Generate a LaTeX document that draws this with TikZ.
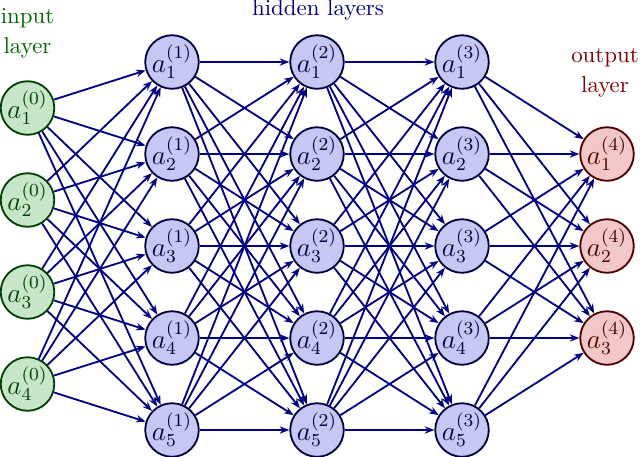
\documentclass[tikz,border=0pt]{standalone}
\usetikzlibrary{arrows.meta}
\colorlet{edgeblue}{blue!50!black}
\colorlet{gborder}{green!25!black}
\colorlet{bborder}{blue!25!black}
\colorlet{rborder}{red!30!black}
\begin{document}
\begin{tikzpicture}[x=0.437pt,y=-0.437pt,
  neuron/.style={circle,draw,thick,minimum size=23.4pt,inner sep=0pt,font=\large},
  inneuron/.style={neuron,fill=green!55!black!22,draw=gborder,text=gborder},
  hidneuron/.style={neuron,fill=blue!80!black!22,draw=bborder,text=bborder},
  outneuron/.style={neuron,fill=red!75!black!22,draw=rborder,text=rborder},
  conn/.style={-{Stealth[length=4.2pt,width=3.2pt]},thick,draw=edgeblue},
  lbl/.style={align=center,inner sep=0pt}]
\useasboundingbox (0,0) rectangle (640,456);
% nodes
\foreach \i in {1,...,4}
  \node[inneuron] (I\i) at (27.5,{108+92*(\i-1)}) {$a_{\i}^{(0)}$};
\foreach \l/\x in {1/172,2/317,3/462}
  \foreach \i in {1,...,5}
    \node[hidneuron] (H\l-\i) at (\x,{62+92*(\i-1)}) {$a_{\i}^{(\l)}$};
\foreach \i in {1,...,3}
  \node[outneuron] (O\i) at (607,{154+92*(\i-1)}) {$a_{\i}^{(4)}$};
% labels
\node[lbl,text=green!40!black] (lin) at (27.5,33) {input\\[1.2pt]layer};
\node[lbl,text=edgeblue] (lhid) at (318,10) {hidden layers};
\node[lbl,text=red!50!black] (lout) at (605,73) {output\\[1.2pt]layer};
% connections
\foreach \i in {1,...,4}
  \foreach \j in {1,...,5}
    \draw[conn] (I\i) -- (H1-\j);
\foreach \l/\m in {1/2,2/3}
  \foreach \i in {1,...,5}
    \foreach \j in {1,...,5}
      \draw[conn] (H\l-\i) -- (H\m-\j);
\foreach \i in {1,...,5}
  \foreach \j in {1,...,3}
    \draw[conn] (H3-\i) -- (O\j);
\end{tikzpicture}
\end{document}
